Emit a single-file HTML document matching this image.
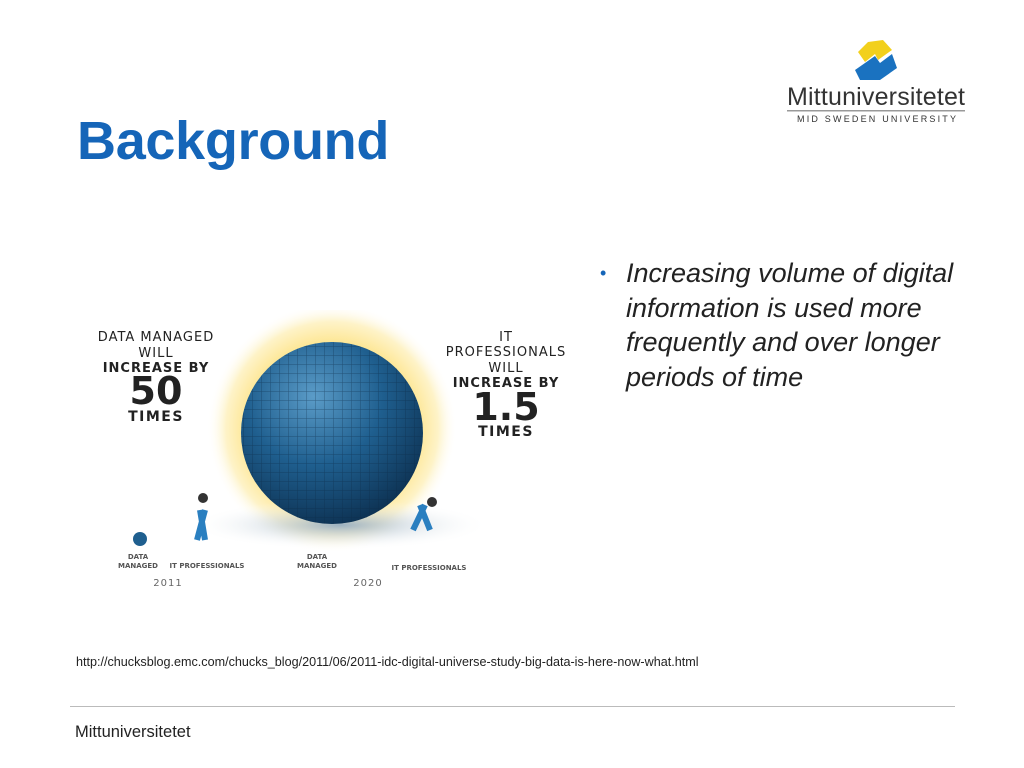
<!DOCTYPE html>
<html><head><style>
body{margin:0;width:1024px;height:768px;background:#fff;position:relative;overflow:hidden;font-family:"Liberation Sans",sans-serif}
.a{position:absolute;white-space:nowrap}
</style></head><body>
<div class="a" style="left:77px;top:110px;font-size:54px;font-weight:bold;color:#1565b8;letter-spacing:-0.3px">Background</div>
<svg class="a" style="left:780px;top:30px" width="200" height="100">
<path d="M78 22 L88 12 L103 10 L112 20 L98 30 L95 24 L85 32 Z" fill="#f2d01c"/>
<path d="M75 40 L85 33 L95 26 L100 33 L112 24 L117 38 L100 50 L80 50 Z" fill="#1a72c0"/>
<text x="7" y="75" font-size="25" fill="#333" font-family="Liberation Sans" textLength="178">Mittuniversitetet</text>
<rect x="7" y="80" width="178" height="1.5" fill="#999"/>
<text x="17" y="92" font-size="9" fill="#333" letter-spacing="2.2">MID SWEDEN UNIVERSITY</text>
</svg>
<svg class="a" style="left:90px;top:310px" width="490" height="290">
<defs>
<radialGradient id="g"><stop offset="65%" stop-color="#fde48a"/><stop offset="85%" stop-color="#fef3c8"/><stop offset="100%" stop-color="#fff" stop-opacity="0"/></radialGradient>
<radialGradient id="s" cx="40%" cy="30%" r="75%"><stop offset="0" stop-color="#5b9cc8"/><stop offset="50%" stop-color="#1f5f8f"/><stop offset="100%" stop-color="#0c2f4f"/></radialGradient>
<radialGradient id="sh"><stop offset="0" stop-color="#9bb0c0"/><stop offset="100%" stop-color="#fff" stop-opacity="0"/></radialGradient>
<pattern id="p" width="9" height="9" patternUnits="userSpaceOnUse"><path d="M0 0H9M0 0V9" stroke="#0b2a45" stroke-width="1" opacity=".5"/></pattern>
</defs>
<circle cx="242" cy="118" r="125" fill="url(#g)"/>
<ellipse cx="250" cy="215" rx="150" ry="25" fill="url(#sh)"/>
<circle cx="242" cy="123" r="91" fill="url(#s)"/>
<circle cx="242" cy="123" r="91" fill="url(#p)"/>
<circle cx="50" cy="229" r="7" fill="#1f5f8f"/>
<path d="M110 200 l5 30 M115 200 l-8 30" stroke="#2a7fc0" stroke-width="6"/>
<circle cx="113" cy="188" r="5" fill="#333"/>
<path d="M330 195 l10 25 M335 195 l-12 25" stroke="#2a7fc0" stroke-width="6"/>
<circle cx="342" cy="192" r="5" fill="#333"/>
<g font-family="DejaVu Sans" fill="#222" text-anchor="middle">
<text x="66" y="31" font-size="13" letter-spacing="1">DATA MANAGED</text>
<text x="66" y="47" font-size="13" letter-spacing="1">WILL</text>
<text x="66" y="62" font-size="13" font-weight="bold" letter-spacing="1">INCREASE BY</text>
<text x="66" y="94" font-size="38" font-weight="bold">50</text>
<text x="66" y="111" font-size="14" font-weight="bold" letter-spacing="1.5">TIMES</text>
<text x="416" y="31" font-size="13" letter-spacing="1">IT</text>
<text x="416" y="46" font-size="13" letter-spacing="1">PROFESSIONALS</text>
<text x="416" y="62" font-size="13" letter-spacing="1">WILL</text>
<text x="416" y="77" font-size="13" font-weight="bold" letter-spacing="1">INCREASE BY</text>
<text x="416" y="110" font-size="38" font-weight="bold">1.5</text>
<text x="416" y="126" font-size="14" font-weight="bold" letter-spacing="1.5">TIMES</text>
<g font-size="7" font-weight="bold" fill="#555"><text x="48" y="249">DATA</text><text x="48" y="258">MANAGED</text><text x="117" y="258">IT PROFESSIONALS</text>
<text x="227" y="249">DATA</text><text x="227" y="258">MANAGED</text><text x="339" y="260">IT PROFESSIONALS</text></g>
<text x="78" y="276" font-size="10" fill="#666" letter-spacing="1">2011</text>
<text x="278" y="276" font-size="10" fill="#666" letter-spacing="1">2020</text>
</g>
</svg>
<div class="a" style="left:600px;top:256px;font-size:27px;font-style:italic;color:#222;line-height:34.5px"><span style="color:#1565b8;font-style:normal;font-size:18px;position:absolute;left:0;top:0">•</span><div style="margin-left:26px">Increasing volume of digital<br>information is used more<br>frequently and over longer<br>periods of time</div></div>
<div class="a" style="left:76px;top:655px;font-size:12.6px;color:#222">http://chucksblog.emc.com/chucks_blog/2011/06/2011-idc-digital-universe-study-big-data-is-here-now-what.html</div>
<div class="a" style="left:70px;top:706px;width:885px;height:1px;background:#bbb"></div>
<div class="a" style="left:75px;top:723px;font-size:16.5px;color:#222">Mittuniversitetet</div>
</body></html>
